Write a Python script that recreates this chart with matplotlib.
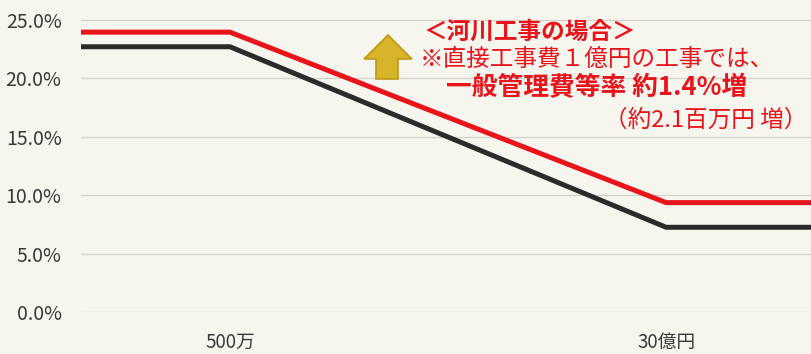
import matplotlib

matplotlib.use("Agg")

import matplotlib.pyplot as plt
import matplotlib.patches as mpatches
from matplotlib.transforms import Affine2D

plt.rcParams["font.family"] = ["Noto Sans CJK JP", "DejaVu Sans"]

W, H = 811, 354
BG = "#f6f5ee"

# data: rate (%) vs direct construction cost (yen), log-linear between breaks
cost_breaks = [5e6, 3e9]
cost_labels = ["500万", "30億円"]
old_rate = [22.7, 7.25]
new_rate = [23.95, 9.36]
y_ticks = [0, 5, 10, 15, 20, 25]
x_limits = (10**5.75, 10**10.4)

fig = plt.figure(figsize=(W / 100, H / 100), dpi=100, facecolor=BG)
ax = fig.add_axes([81 / W, (H - 312) / H, 1 - 81 / W, 312 / H])
ax.set_facecolor(BG)
ax.set_xscale("log")
ax.set_xlim(*x_limits)
ax.set_ylim(0, 26.7)

xs = [x_limits[0], cost_breaks[0], cost_breaks[1], x_limits[1]]
ax.plot(xs, [old_rate[0], old_rate[0], old_rate[1], old_rate[1]],
        color="#2b2b2b", lw=3.6, solid_capstyle="butt", clip_on=False, zorder=3)
ax.plot(xs, [new_rate[0], new_rate[0], new_rate[1], new_rate[1]],
        color="#e8141c", lw=3.6, solid_capstyle="butt", clip_on=False, zorder=4)

ax.set_yticks(y_ticks)
ax.set_yticklabels([f"{v:.1f}%" for v in y_ticks])
ax.set_xticks(cost_breaks)
ax.set_xticklabels(cost_labels)
ax.minorticks_off()
ax.tick_params(axis="y", length=0, pad=14, labelsize=14, labelcolor="#3a3a3a")
ax.tick_params(axis="x", length=0, pad=14, labelsize=13.5, labelcolor="#3a3a3a")
ax.grid(axis="y", color="#d3d3cc", lw=0.9)
ax.set_axisbelow(True)
for s in ax.spines.values():
    s.set_visible(False)

# pixel coords (top-left origin) -> figure fraction
px = Affine2D().scale(1 / W, -1 / H).translate(0, 1) + fig.transFigure

arrow = [(388, 35), (412, 59), (398, 59), (398, 79), (376, 79), (376, 59), (364, 59)]
fig.patches.append(mpatches.Polygon(arrow, closed=True, transform=px,
                                    facecolor="#d8b42a", edgecolor="#bf9a18", lw=1.2))

red = "#e8141c"
fig.text(424, 32, "＜河川工事の場合＞", transform=px, color=red, fontsize=17,
         fontweight="bold", va="center", ha="left")
fig.text(420, 59, "※直接工事費１億円の工事では、", transform=px, color=red, fontsize=17,
         va="center", ha="left")
fig.text(446, 88, "一般管理費等率 約1.4%増", transform=px, color=red, fontsize=18.5,
         fontweight="bold", va="center", ha="left")
fig.text(604, 120, "（約2.1百万円 増）", transform=px, color=red, fontsize=17,
         va="center", ha="left")

fig.savefig("out.png", dpi=100, facecolor=BG)
